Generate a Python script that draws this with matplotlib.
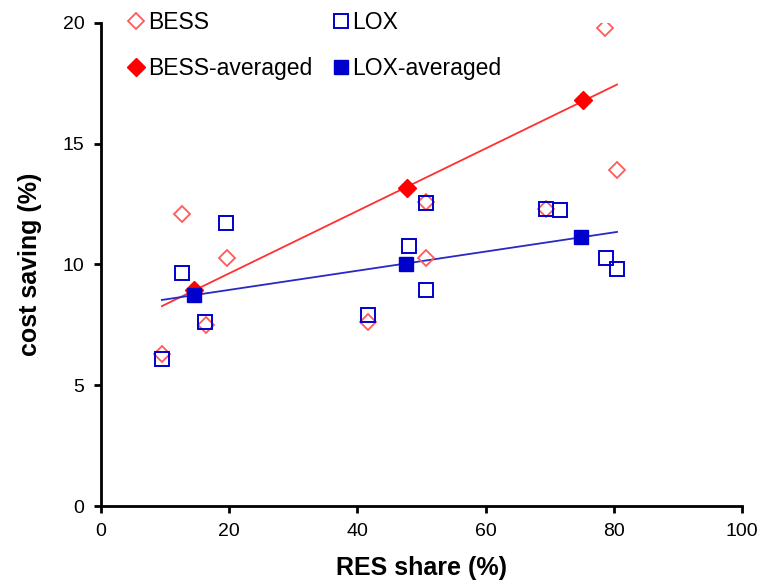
import numpy as np
import matplotlib
matplotlib.use("Agg")
import matplotlib.pyplot as plt

plt.rcParams['font.family'] = ['Liberation Sans', 'DejaVu Sans']

# ---- data ----
bess_x = [9.5, 12.6, 16.4, 19.7, 41.7, 50.7, 50.7, 69.4, 78.6, 80.5]
bess_y = [6.3, 12.1, 7.5, 10.25, 7.6, 12.6, 10.25, 12.3, 19.8, 13.9]

lox_x = [9.5, 12.6, 16.2, 19.5, 41.7, 48.0, 50.7, 50.7, 69.4, 71.6, 78.8, 80.5]
lox_y = [6.1, 9.65, 7.6, 11.7, 7.9, 10.75, 8.95, 12.55, 12.3, 12.25, 10.25, 9.8]

bess_avg_x = [14.5, 47.7, 75.2]
bess_avg_y = [8.95, 13.15, 16.8]

lox_avg_x = [14.5, 47.6, 74.9]
lox_avg_y = [8.75, 10.0, 11.15]

red = '#FF0000'
red_light = '#FF5A5A'
blue = '#0000CC'

fig = plt.figure(figsize=(7.64, 5.86), dpi=100)
ax = fig.add_axes([0.1322, 0.1365, 0.8390, 0.8243])

# trend lines through averaged points, spanning the raw x range
xs = np.array([min(bess_x), max(bess_x)])
k, b = np.polyfit(bess_avg_x, bess_avg_y, 1)
ax.plot(xs, k * xs + b, color='#FF3030', lw=1.3, zorder=2)
xs = np.array([min(lox_x), max(lox_x)])
k, b = np.polyfit(lox_avg_x, lox_avg_y, 1)
ax.plot(xs, k * xs + b, color='#2828C8', lw=1.3, zorder=2)

h1, = ax.plot(bess_x, bess_y, 'D', ms=8, mfc='none', mec=red_light, mew=1.3,
              ls='none', label='BESS', zorder=3)
h3, = ax.plot(lox_x, lox_y, 's', ms=10, mfc='none', mec=blue, mew=1.4,
              ls='none', label='LOX', zorder=3)
h2, = ax.plot(bess_avg_x, bess_avg_y, 'D', ms=9, color=red, mec=red,
              ls='none', label='BESS-averaged', zorder=4)
h4, = ax.plot(lox_avg_x, lox_avg_y, 's', ms=10, color=blue, mec=blue,
              ls='none', label='LOX-averaged', zorder=4)

ax.set_xlim(0, 100)
ax.set_ylim(0, 20)
ax.set_xticks(np.arange(0, 101, 20))
ax.set_yticks(np.arange(0, 21, 5))

for s in ['top', 'right']:
    ax.spines[s].set_visible(False)
for s in ['left', 'bottom']:
    ax.spines[s].set_linewidth(2)
ax.tick_params(direction='out', length=5, width=2, labelsize=14, pad=7)

ax.set_xlabel('RES share (%)', fontsize=18, fontweight='bold', labelpad=12)
ax.set_ylabel('cost saving (%)', fontsize=18, fontweight='bold', labelpad=15)

leg = ax.legend(handles=[h1, h2, h3, h4], ncol=2, frameon=False,
                loc='upper left', bbox_to_anchor=(0.153, 1.0),
                bbox_transform=fig.transFigure, fontsize=16.5,
                handlelength=0.7, handletextpad=0.15, labelspacing=1.0,
                columnspacing=0.9, borderaxespad=0.1)

fig.savefig('out.png', dpi=100)
